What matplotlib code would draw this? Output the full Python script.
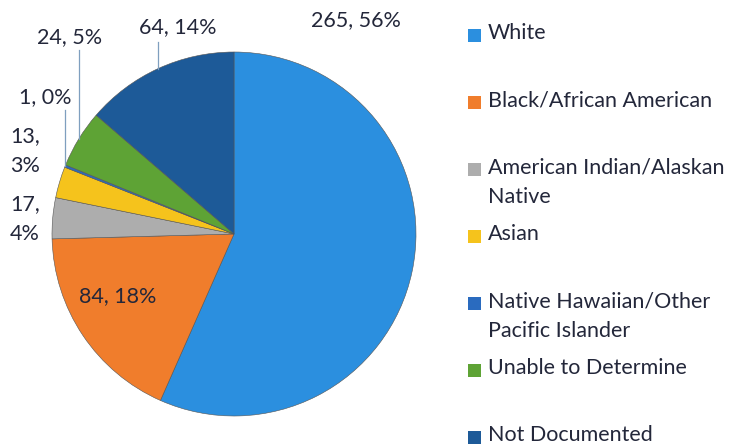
import numpy as np
import matplotlib
matplotlib.use('Agg')
import matplotlib.pyplot as plt
from matplotlib.patches import Rectangle

# data
categories = ['White', 'Black/African American', 'American Indian/Alaskan\nNative', 'Asian',
              'Native Hawaiian/Other\nPacific Islander', 'Unable to Determine', 'Not Documented']
counts = [265, 84, 17, 13, 1, 24, 64]
pct_labels = ['56%', '18%', '4%', '3%', '0%', '5%', '14%']
colors = ['#2b8fdf', '#f07d2c', '#adadad', '#f5c31c', '#2a6bbf', '#5ea335', '#1d5a98']

plt.rcParams['font.family'] = ['Lato', 'DejaVu Sans']
txt_color = '#23273a'
fs = 15.5

fig = plt.figure(figsize=(7.5, 4.48), dpi=100)
ax = fig.add_axes([0, 0, 1, 1])

cx, cy, r = 234, 214, 182
wedges, _ = ax.pie(counts, colors=colors, startangle=90, counterclock=False,
                   center=(cx, cy), radius=r, frame=True,
                   wedgeprops=dict(linewidth=0.4, edgecolor='#555555'))
ax.set_xlim(0, 750)
ax.set_ylim(0, 448)
ax.set_aspect('equal')
ax.axis('off')

# label text, position (pixels from bottom), alignment, leader line top (None = no line)
lab_text = ['%d, %s' % (c, p) for c, p in zip(counts, pct_labels)]
lab_text[2] = '17,\n4%'
lab_text[3] = '13,\n3%'
lab_pos = [(356, 428), (118, 152), (10, 229), (10, 297), (45, 351), (70, 411), (178, 421)]
lab_ha = ['center', 'center', 'left', 'left', 'center', 'center', 'center']
line_top = [None, None, None, None, 338, 398, 406]

for w, t, pos, ha, lt in zip(wedges, lab_text, lab_pos, lab_ha, line_top):
    ax.text(pos[0], pos[1], t, ha=ha, va='center', fontsize=fs, color=txt_color, linespacing=1.6)
    if lt is not None:
        mid = np.deg2rad((w.theta1 + w.theta2) / 2)
        ex = cx + r * np.cos(mid)
        ey = cy + r * np.sin(mid)
        ax.plot([ex, ex], [ey, lt], color='#7f9fbf', lw=0.9)

# legend drawn by hand: one slot of 67 px per entry
for i, (lab, col) in enumerate(zip(categories, colors)):
    y = 413 - 67 * i
    ax.add_patch(Rectangle((468, y - 6.5), 13, 13, facecolor=col, edgecolor='none'))
    ax.text(488, y + 12, lab, ha='left', va='top', fontsize=fs, color=txt_color, linespacing=1.6)

fig.savefig('out.png', dpi=100)
